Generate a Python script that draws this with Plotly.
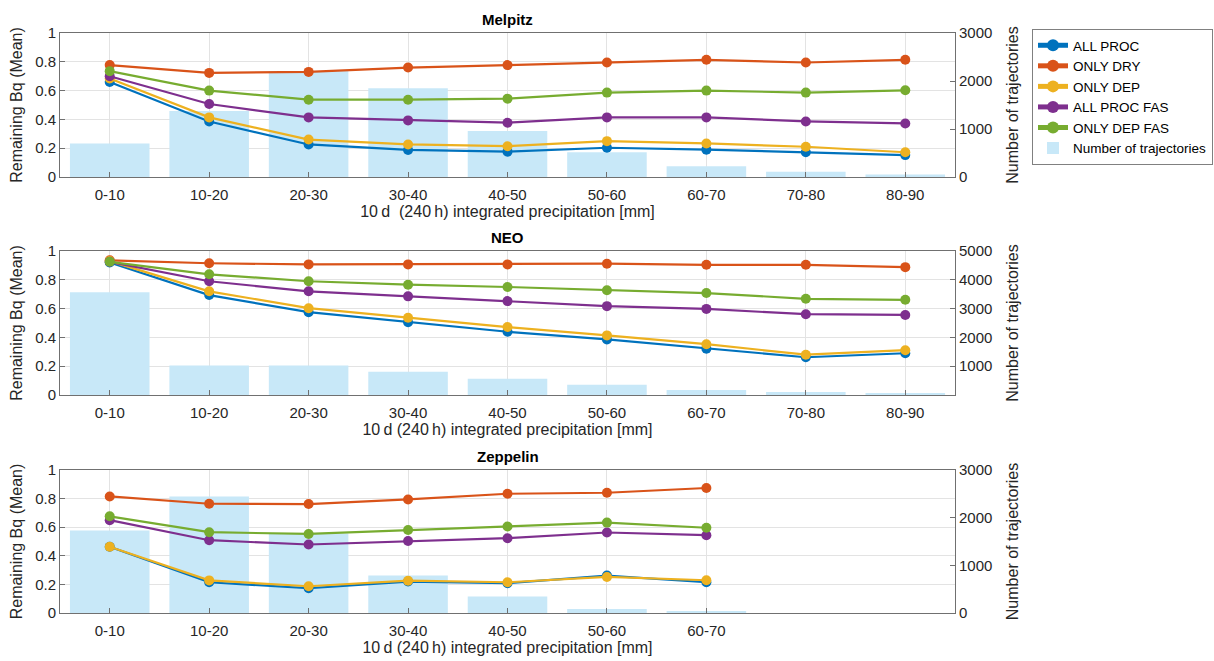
import plotly.graph_objects as go

categories = ["0-10", "10-20", "20-30", "30-40", "40-50", "50-60", "60-70", "70-80", "80-90"]
series_names = ["ALL PROC", "ONLY DRY", "ONLY DEP", "ALL PROC FAS", "ONLY DEP FAS"]
series_colors = ["#0072BD", "#D95319", "#EDB120", "#7E2F8E", "#77AC30"]
bar_name = "Number of trajectories"

# Melpitz
melpitz_all_proc = [0.66, 0.385, 0.226, 0.188, 0.176, 0.203, 0.19, 0.172, 0.152]
melpitz_only_dry = [0.777, 0.723, 0.73, 0.76, 0.777, 0.795, 0.814, 0.795, 0.814]
melpitz_only_dep = [0.684, 0.414, 0.26, 0.226, 0.214, 0.249, 0.233, 0.21, 0.172]
melpitz_all_proc_fas = [0.70, 0.507, 0.414, 0.393, 0.377, 0.414, 0.414, 0.386, 0.372]
melpitz_only_dep_fas = [0.735, 0.60, 0.537, 0.537, 0.544, 0.586, 0.60, 0.586, 0.602]
melpitz_counts = [700, 1375, 2210, 1850, 957, 515, 225, 110, 50]

# NEO
neo_all_proc = [0.92, 0.694, 0.575, 0.505, 0.439, 0.386, 0.322, 0.262, 0.29]
neo_only_dry = [0.935, 0.915, 0.907, 0.907, 0.907, 0.912, 0.904, 0.904, 0.888]
neo_only_dep = [0.93, 0.72, 0.603, 0.537, 0.472, 0.414, 0.353, 0.28, 0.311]
neo_all_proc_fas = [0.925, 0.79, 0.72, 0.685, 0.652, 0.617, 0.598, 0.561, 0.556]
neo_only_dep_fas = [0.925, 0.838, 0.79, 0.766, 0.75, 0.727, 0.708, 0.668, 0.661]
neo_counts = [3570, 1025, 1025, 810, 565, 355, 175, 105, 55]

# Zeppelin
zeppelin_all_proc = [0.463, 0.215, 0.173, 0.22, 0.208, 0.262, 0.215]
zeppelin_only_dry = [0.815, 0.764, 0.762, 0.794, 0.834, 0.841, 0.874]
zeppelin_only_dep = [0.463, 0.228, 0.187, 0.226, 0.215, 0.252, 0.229]
zeppelin_all_proc_fas = [0.649, 0.509, 0.479, 0.503, 0.523, 0.563, 0.544]
zeppelin_only_dep_fas = [0.676, 0.565, 0.553, 0.58, 0.605, 0.632, 0.596]
zeppelin_counts = [1730, 2445, 1670, 785, 345, 85, 30]

panels = [
    dict(title="Melpitz", lines=[melpitz_all_proc, melpitz_only_dry, melpitz_only_dep, melpitz_all_proc_fas, melpitz_only_dep_fas],
         counts=melpitz_counts, cmax=3000, cticks=[0, 1000, 2000, 3000],
         xtitle="10\u2009d  (240\u2009h) integrated precipitation [mm]"),
    dict(title="NEO", lines=[neo_all_proc, neo_only_dry, neo_only_dep, neo_all_proc_fas, neo_only_dep_fas],
         counts=neo_counts, cmax=5000, cticks=[1000, 2000, 3000, 4000, 5000],
         xtitle="10\u2009d (240\u2009h) integrated precipitation [mm]"),
    dict(title="Zeppelin", lines=[zeppelin_all_proc, zeppelin_only_dry, zeppelin_only_dep, zeppelin_all_proc_fas, zeppelin_only_dep_fas],
         counts=zeppelin_counts, cmax=3000, cticks=[0, 1000, 2000, 3000],
         xtitle="10\u2009d (240\u2009h) integrated precipitation [mm]"),
]

W, H = 1214, 661
x_dom = [60 / W, 955 / W]
y_px = [(33, 177), (251, 395), (470, 613)]

FONT = "Liberation Sans, Arial, sans-serif"
TXT = "#262626"
AX = "#707070"
GRID = "#e3e3e3"
BAR = "#c8e8f8"

fig = go.Figure()
layout = dict()
annotations = []

for i, p in enumerate(panels):
    xa = "x" if i == 0 else f"x{i+1}"
    yb_idx = 2 * i + 1
    yo_idx = 2 * i + 2
    yb = "y" if yb_idx == 1 else f"y{yb_idx}"
    yo = f"y{yo_idx}"
    n = len(p["counts"])
    cats = categories[:n]

    fig.add_trace(go.Bar(
        x=cats, y=p["counts"], xaxis=xa, yaxis=yb, name=bar_name,
        marker=dict(color=BAR, line=dict(width=0)),
        showlegend=(i == 0), legendgroup="bars", legendrank=1006,
    ))
    for k, (nm, col, vals) in enumerate(zip(series_names, series_colors, p["lines"])):
        fig.add_trace(go.Scatter(
            x=cats, y=vals, xaxis=xa, yaxis=yo, name=nm, mode="lines+markers",
            line=dict(color=col, width=2.2), marker=dict(color=col, size=10),
            showlegend=(i == 0), legendgroup=nm, legendrank=1000 + k,
        ))

    top, bot = y_px[i]
    dom = [1 - bot / H, 1 - top / H]
    xkey = "xaxis" if i == 0 else f"xaxis{i+1}"
    ybkey = "yaxis" if yb_idx == 1 else f"yaxis{yb_idx}"
    yokey = f"yaxis{yo_idx}"
    layout[xkey] = dict(
        domain=x_dom, anchor=yb, type="category", categoryorder="array", categoryarray=categories,
        range=[-0.5, len(categories) - 0.5], tickmode="array", tickvals=cats, ticktext=cats,
        showgrid=True, gridcolor=GRID, gridwidth=1, automargin=False,
        ticks="inside", ticklen=5, tickcolor=AX, showline=True, linecolor=AX, linewidth=1, mirror=True,
        tickfont=dict(family=FONT, size=15, color=TXT), ticklabelstandoff=4,
        title=dict(text=p["xtitle"], font=dict(family=FONT, size=16, color=TXT), standoff=3),
        zeroline=False,
    )
    layout[ybkey] = dict(
        domain=dom, anchor=xa, side="right", range=[0, p["cmax"]], tickmode="array",
        tickvals=p["cticks"], ticktext=[str(v) for v in p["cticks"]], automargin=False,
        showgrid=False, zeroline=False, ticks="inside", ticklen=5, tickcolor=AX,
        showline=True, linecolor=AX, linewidth=1,
        tickfont=dict(family=FONT, size=15, color=TXT),
        title=dict(text="Number of trajectories", font=dict(family=FONT, size=16, color=TXT), standoff=15),
    )
    layout[yokey] = dict(
        overlaying=yb, anchor=xa, side="left", range=[0, 1], tickmode="array",
        tickvals=[0, 0.2, 0.4, 0.6, 0.8, 1], ticktext=["0", "0.2", "0.4", "0.6", "0.8", "1"],
        showgrid=True, gridcolor=GRID, gridwidth=1, zeroline=False, automargin=False,
        ticks="inside", ticklen=5, tickcolor=AX, showline=True, linecolor=AX, linewidth=1,
        tickfont=dict(family=FONT, size=15, color=TXT),
        title=dict(text="Remaining Bq (Mean)", font=dict(family=FONT, size=16, color=TXT), standoff=8),
    )
    annotations.append(dict(
        text=f"<b>{p['title']}</b>", x=(x_dom[0] + x_dom[1]) / 2, y=1 - (top - 3) / H,
        xref="paper", yref="paper", xanchor="center", yanchor="bottom", showarrow=False,
        font=dict(family=FONT, size=15, color="#000000"),
    ))

fig.update_layout(
    **layout,
    annotations=annotations,
    width=W, height=H,
    margin=dict(l=0, r=0, t=0, b=0, autoexpand=False),
    paper_bgcolor="white", plot_bgcolor="white",
    bargap=0.2,
    font=dict(family=FONT, size=15, color=TXT),
    legend=dict(
        x=1032 / W, y=1 - 29 / H, xanchor="left", yanchor="top",
        bordercolor="#808080", borderwidth=1, bgcolor="white",
        font=dict(family=FONT, size=13.5, color="#000000"),
        tracegroupgap=0, itemsizing="constant",
    ),
    showlegend=True,
)

fig.write_html("out.html")
